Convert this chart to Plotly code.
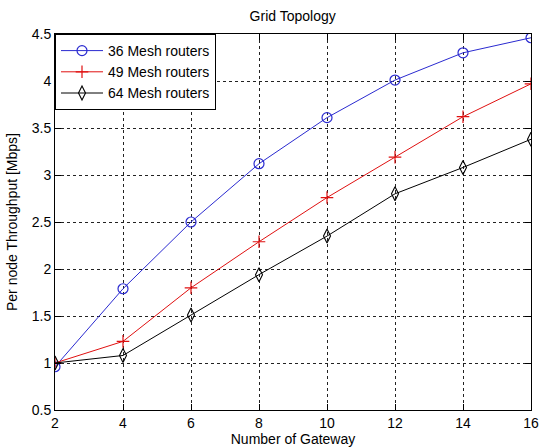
import plotly.graph_objects as go

gateways = [2, 4, 6, 8, 10, 12, 14, 16]
mesh36 = [0.96, 1.79, 2.50, 3.12, 3.61, 4.01, 4.30, 4.46]
mesh49 = [1.00, 1.23, 1.80, 2.29, 2.76, 3.19, 3.62, 3.97]
mesh64 = [1.00, 1.08, 1.51, 1.94, 2.35, 2.80, 3.08, 3.38]
series_names = ["36 Mesh routers", "49 Mesh routers", "64 Mesh routers"]
x_ticks = [2, 4, 6, 8, 10, 12, 14, 16]
y_ticks = [0.5, 1, 1.5, 2, 2.5, 3, 3.5, 4, 4.5]

FONT = "Liberation Sans, Arial, sans-serif"

fig = go.Figure()
fig.add_trace(go.Scatter(x=gateways, y=mesh36, name=series_names[0], mode="lines+markers",
                         line=dict(color="#2a2ad0", width=1),
                         marker=dict(symbol="circle-open", size=10, color="#2a2ad0", line=dict(width=1.2))))
fig.add_trace(go.Scatter(x=gateways, y=mesh49, name=series_names[1], mode="lines+markers",
                         line=dict(color="#e01010", width=1),
                         marker=dict(symbol="cross-thin-open", size=9, color="#e01010", line=dict(width=1.2))))
fig.add_trace(go.Scatter(x=gateways, y=mesh64, name=series_names[2], mode="lines+markers",
                         line=dict(color="#000000", width=1),
                         marker=dict(symbol="diamond-tall-open", size=10, color="#000000", line=dict(width=1.1))))

axis_common = dict(showline=True, linecolor="black", linewidth=1, mirror="ticks",
                   ticks="inside", ticklen=6, tickcolor="black", automargin=False,
                   showgrid=True, gridcolor="#222222", gridwidth=1, griddash="3px,3px",
                   zeroline=False, tickfont=dict(family=FONT, size=14, color="black"))

fig.update_layout(
    width=542, height=447,
    margin=dict(l=55, r=11, t=34, b=37),
    paper_bgcolor="white", plot_bgcolor="white",
    title=dict(text="Grid Topology", x=0.54, xanchor="center", y=1 - 16/447, yanchor="middle",
               font=dict(family=FONT, size=14, color="black")),
    xaxis=dict(range=[2, 16], tickvals=x_ticks,
               title=dict(text="Number of Gateway", standoff=6,
                          font=dict(family=FONT, size=14, color="black")),
               **axis_common),
    yaxis=dict(range=[0.5, 4.5], tickvals=y_ticks, ticktext=[f"{v:g}" for v in y_ticks],
               **axis_common),
    annotations=[dict(text="Per node Throughput [Mbps]", xref="paper", yref="paper",
                      x=0, y=0.5, xanchor="center", yanchor="middle", xshift=-43,
                      textangle=-90, showarrow=False,
                      font=dict(family=FONT, size=14, color="black"))],
    legend=dict(x=0, y=1, xanchor="left", yanchor="top", bgcolor="white",
                bordercolor="black", borderwidth=1, tracegroupgap=0, itemwidth=42,
                font=dict(family=FONT, size=14, color="black")),
    showlegend=True,
)

fig.write_html("out.html", config={"displayModeBar": False},
               post_script="document.body.style.margin='0';")
